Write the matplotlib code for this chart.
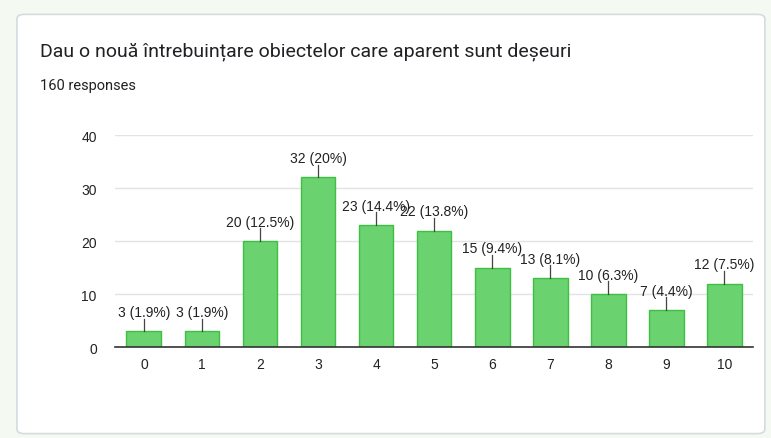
import matplotlib.pyplot as plt
from matplotlib.patches import FancyBboxPatch

title = "Dau o nouă întrebuințare obiectelor care aparent sunt deșeuri"
subtitle = "160 responses"
categories = ["0", "1", "2", "3", "4", "5", "6", "7", "8", "9", "10"]
counts = [3, 3, 20, 32, 23, 22, 15, 13, 10, 7, 12]
labels = ["3 (1.9%)", "3 (1.9%)", "20 (12.5%)", "32 (20%)", "23 (14.4%)",
          "22 (13.8%)", "15 (9.4%)", "13 (8.1%)", "10 (6.3%)", "7 (4.4%)",
          "12 (7.5%)"]
yticks = [0, 10, 20, 30, 40]

fig = plt.figure(figsize=(7.71, 4.39), dpi=100)
fig.patch.set_facecolor("#f4f9f2")

# card behind everything
card = FancyBboxPatch((0.022, 0.01), 0.97, 0.955, boxstyle="round,pad=0,rounding_size=0.01",
                      transform=fig.transFigure, facecolor="white",
                      edgecolor="#d6dbe0", linewidth=1.2, zorder=-10)
fig.patches.append(card)

fig.text(0.052, 0.882, title, fontsize=14, family="Roboto", color="#202124", va="center")
fig.text(0.052, 0.804, subtitle, fontsize=10.5, family="Roboto", color="#202124", va="center")

ax = fig.add_axes([0.149, 0.207, 0.828, 0.483])
ax.set_zorder(2)
ax.patch.set_alpha(0)
x = list(range(len(categories)))
ax.bar(x, counts, width=0.6, color="#6ad26e", edgecolor="#3fbf45", linewidth=1, zorder=3)

for xi, v, lab in zip(x, counts, labels):
    ax.plot([xi, xi], [v, v + 2.4], color="#444444", lw=0.9, zorder=4)
    ax.text(xi, v + 2.3, lab, ha="center", va="bottom", fontsize=10,
            family="Liberation Sans", color="#222222", zorder=5)

ax.set_xlim(-0.5, len(categories) - 0.5)
ax.set_ylim(0, 40)
ax.set_yticks(yticks)
ax.set_xticks(x)
ax.set_xticklabels(categories)
ax.tick_params(length=0, labelsize=10, colors="#222222", pad=7)
ax.tick_params(axis="y", pad=13)
for lab in ax.get_xticklabels() + ax.get_yticklabels():
    lab.set_family("Liberation Sans")
ax.grid(axis="y", color="#e3e3e3", linewidth=1, zorder=0)
for s in ["top", "right", "left"]:
    ax.spines[s].set_visible(False)
ax.spines["bottom"].set_color("#333333")
ax.spines["bottom"].set_linewidth(1.2)
ax.spines["bottom"].set_zorder(6)

fig.savefig("out.png", dpi=100)
